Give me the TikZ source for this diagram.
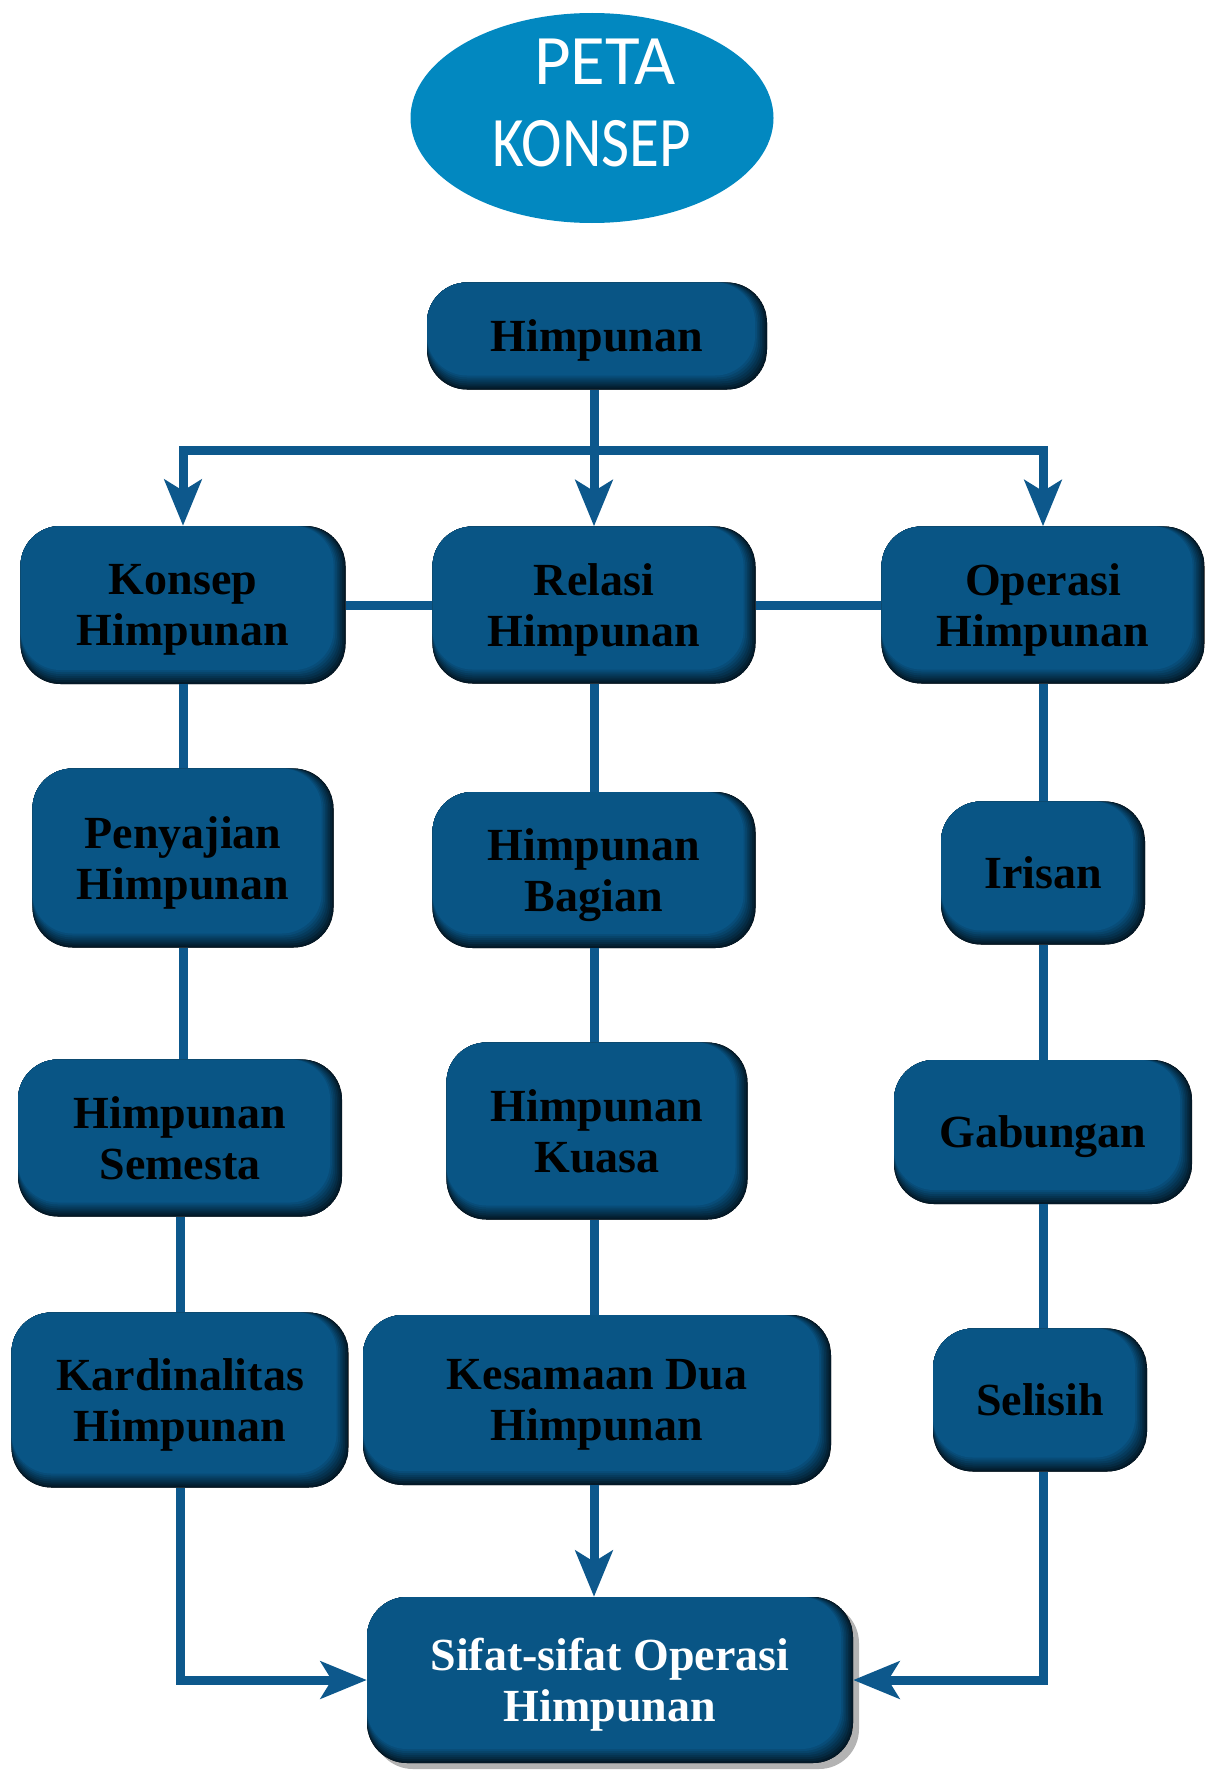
\documentclass[tikz,border=0pt]{standalone}
\usepackage{fontspec}
\setmainfont{Liberation Serif}
\newfontfamily\titlefont{Carlito}
\usepackage{tikz}
\usetikzlibrary{arrows.meta, shapes.geometric, shadows}

\definecolor{titleblue}{HTML}{0288C0}
\definecolor{boxblue}{HTML}{095585}
\definecolor{lineblue}{HTML}{0D588C}

\tikzset{
  box/.style={rounded corners=40pt, fill=black, text=black, inner sep=0pt, align=center,
    text depth=0pt, font=\bfseries\fontsize{46}{51}\selectfont,
    path picture={
      \foreach \k [evaluate=\k as \p using int(30+\k*10)] in {0,...,7}
        \fill[boxblue!\p!black, rounded corners=40pt] (path picture bounding box.north west)
          rectangle ([xshift=-\k*1.7pt, yshift=\k*2pt]path picture bounding box.south east);
    }},
  line/.style={lineblue, line width=9pt},
  arr/.style={line, -{Stealth[length=46pt, width=37pt, inset=11pt]}}
}

\begin{document}
\begin{tikzpicture}[x=1pt, y=-1pt]
\useasboundingbox (0,0) rectangle (1207,1774);

% Title
\node[ellipse, fill=titleblue, minimum width=363pt, minimum height=210pt, inner sep=0pt]
  (title) at (592,118) {};
\node[text=white, align=center, inner sep=0pt, text depth=0pt,
  font=\titlefont\fontsize{71}{82}\selectfont]
  (titletext) at (592,102.5) {\hspace*{26pt}PETA\\\scalebox{0.86}[1]{KONSEP}};

% Boxes
\node[box, minimum width=340pt, minimum height=107pt] (top) at (597,336) {Himpunan};

\node[box, minimum width=325pt, minimum height=158pt] (konsep) at (183,605) {Konsep\\Himpunan};
\node[box, minimum width=323pt, minimum height=157pt] (relasi) at (594,605) {Relasi\\Himpunan};
\node[box, minimum width=323pt, minimum height=157pt] (operasi) at (1043,605) {Operasi\\Himpunan};

\node[box, minimum width=301pt, minimum height=179pt] (penyajian) at (183,858) {Penyajian\\Himpunan};
\node[box, minimum width=323pt, minimum height=156pt] (bagian) at (594,870) {Himpunan\\Bagian};
\node[box, minimum width=204pt, minimum height=143pt] (irisan) at (1043,873) {Irisan};

\node[box, minimum width=324pt, minimum height=157pt] (semesta) at (180,1138) {Himpunan\\Semesta};
\node[box, minimum width=301pt, minimum height=177pt] (kuasa) at (597,1131) {Himpunan\\Kuasa};
\node[box, minimum width=298pt, minimum height=144pt] (gabungan) at (1043,1132) {Gabungan};

\node[box, minimum width=337pt, minimum height=175pt] (kardinal) at (180,1400) {Kardinalitas\\Himpunan};
\node[box, minimum width=468pt, minimum height=170pt] (kesamaan) at (597,1400) {Kesamaan Dua\\Himpunan};
\node[box, minimum width=214pt, minimum height=143pt] (selisih) at (1040,1400) {Selisih};

\node[box, text=white, minimum width=486pt, minimum height=166pt,
  drop shadow={shadow xshift=6pt, shadow yshift=-6pt, fill=gray, opacity=0.6}]
  (sifat) at (610,1680) {Sifat-sifat Operasi\\Himpunan};

% Branches from the top
\coordinate (barmid) at (594,450);
\draw[arr] (top.south -| relasi) -- (relasi.north);
\draw[arr] (barmid) -| (konsep.north);
\draw[arr] (barmid) -| (operasi.north);

% Links between the three heads
\draw[line] (konsep.east) -- (relasi.west);
\draw[line] (relasi.east) -- (operasi.west);

% Columns
\draw[line] (konsep.south) -- (konsep.south |- penyajian.north);
\draw[line] (penyajian.south) -- (penyajian.south |- semesta.north);
\draw[line] (semesta.south) -- (semesta.south |- kardinal.north);
\draw[line] (relasi.south) -- (relasi.south |- bagian.north);
\draw[line] (bagian.south) -- (bagian.south |- kuasa.north);
\draw[line] (kuasa.south -| bagian) -- (kesamaan.north -| bagian);
\draw[line] (operasi.south) -- (operasi.south |- irisan.north);
\draw[line] (irisan.south) -- (irisan.south |- gabungan.north);
\draw[line] (gabungan.south) -- (gabungan.south |- selisih.north);

% Into the last box
\draw[arr] (kesamaan.south -| bagian) -- (sifat.north -| bagian);
\draw[arr] (kardinal.south) |- (sifat.west);
\draw[arr] (selisih.south -| gabungan) |- (sifat.east);

\end{tikzpicture}
\end{document}
